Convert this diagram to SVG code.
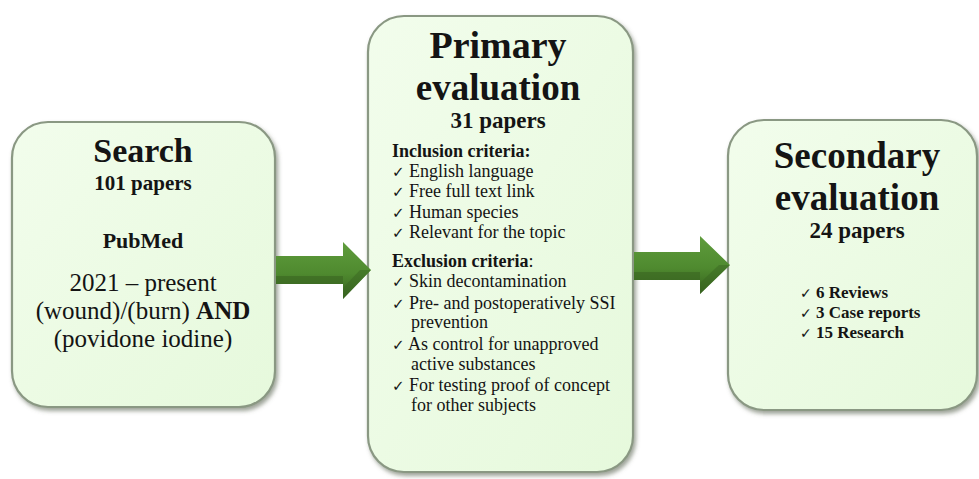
<svg xmlns="http://www.w3.org/2000/svg" width="979" height="479" viewBox="0 0 979 479">
  <defs>
    <linearGradient id="boxFill" x1="0" y1="0" x2="1" y2="1">
      <stop offset="0" stop-color="#f2fdec"/>
      <stop offset="1" stop-color="#e6f9dc"/>
    </linearGradient>
    <linearGradient id="arrowFill" x1="0" y1="0" x2="0" y2="1">
      <stop offset="0" stop-color="#5f9c3c"/>
      <stop offset="0.55" stop-color="#4f8a2f"/>
      <stop offset="1" stop-color="#35601d"/>
    </linearGradient>
    <filter id="shadow" x="-10%" y="-10%" width="125%" height="125%">
      <feDropShadow dx="2" dy="3" stdDeviation="2" flood-color="#5a6652" flood-opacity="0.6"/>
    </filter>
  </defs>
  <style>
    .box { fill: url(#boxFill); stroke: #8a9883; stroke-width: 2.2; filter: url(#shadow); }
    .t { font-family: "Liberation Serif", "Times New Roman", serif; fill: #141414; }
    .b { font-weight: bold; }
    .c { text-anchor: middle; }
    .chk { font-family: "DejaVu Sans", sans-serif; font-weight: normal; }
    .arrow { fill: url(#arrowFill); }
  </style>
  <rect width="979" height="479" fill="#ffffff"/>

  <g id="node-search">
    <rect class="box" x="12" y="122" width="263" height="285" rx="36" ry="36"/>
    <text class="t b c" x="143" y="162" font-size="34">Search</text>
    <text class="t b c" x="143" y="190" font-size="21">101 papers</text>
    <text class="t b c" x="143" y="248" font-size="22">PubMed</text>
    <text class="t c" x="143" y="291" font-size="25">2021 – present</text>
    <text class="t c" x="143" y="319" font-size="25">(wound)/(burn) <tspan class="b">AND</tspan></text>
    <text class="t c" x="143" y="347" font-size="25">(povidone iodine)</text>
  </g>

  <g id="node-primary">
    <rect class="box" x="368" y="16" width="265" height="456" rx="36" ry="36"/>
    <text class="t b c" x="498" y="58" font-size="38">Primary</text>
    <text class="t b c" x="498" y="100" font-size="37">evaluation</text>
    <text class="t b c" x="498" y="128" font-size="23">31 papers</text>
    <g class="t" font-size="18">
      <text class="b" x="392" y="157">Inclusion criteria:</text>
      <text x="392" y="177"><tspan class="chk" font-size="15">✓</tspan> English language</text>
      <text x="392" y="197"><tspan class="chk" font-size="15">✓</tspan> Free full text link</text>
      <text x="392" y="218"><tspan class="chk" font-size="15">✓</tspan> Human species</text>
      <text x="392" y="238"><tspan class="chk" font-size="15">✓</tspan> Relevant for the topic</text>
      <text x="392" y="267"><tspan class="b">Exclusion criteria</tspan>:</text>
      <text x="392" y="287"><tspan class="chk" font-size="15">✓</tspan> Skin decontamination</text>
      <text x="392" y="309"><tspan class="chk" font-size="15">✓</tspan> Pre- and postoperatively SSI</text>
      <text x="411" y="328">prevention</text>
      <text x="392" y="350"><tspan class="chk" font-size="15">✓</tspan> As control for unapproved</text>
      <text x="411" y="370">active substances</text>
      <text x="392" y="391"><tspan class="chk" font-size="15">✓</tspan> For testing proof of concept</text>
      <text x="411" y="411">for other subjects</text>
    </g>
  </g>

  <g id="node-secondary">
    <rect class="box" x="728" y="120" width="249" height="290" rx="36" ry="36"/>
    <text class="t b c" x="857" y="168" font-size="37">Secondary</text>
    <text class="t b c" x="857" y="210" font-size="37">evaluation</text>
    <text class="t b c" x="857" y="238" font-size="23">24 papers</text>
    <g class="t b" font-size="17">
      <text x="800" y="298"><tspan class="chk" font-size="14">✓</tspan> 6 Reviews</text>
      <text x="800" y="318"><tspan class="chk" font-size="14">✓</tspan> 3 Case reports</text>
      <text x="800" y="338"><tspan class="chk" font-size="14">✓</tspan> 15 Research</text>
    </g>
  </g>

  <g id="connectors">
    <polygon class="arrow" points="276,256 343,256 343,242 371,270 343,299 343,284 276,284"/>
    <polygon points="276,276 343,276 343,284 276,284" fill="#3a6521" opacity="0.6"/>
    <polygon points="343,299 371,270 360,270 343,288" fill="#3a6521" opacity="0.5"/>
    <polygon class="arrow" points="634,252 700,252 700,236 730,265 700,294 700,280 634,280"/>
    <polygon points="634,272 700,272 700,280 634,280" fill="#3a6521" opacity="0.6"/>
    <polygon points="700,294 730,265 719,265 700,283" fill="#3a6521" opacity="0.5"/>
  </g>
</svg>
